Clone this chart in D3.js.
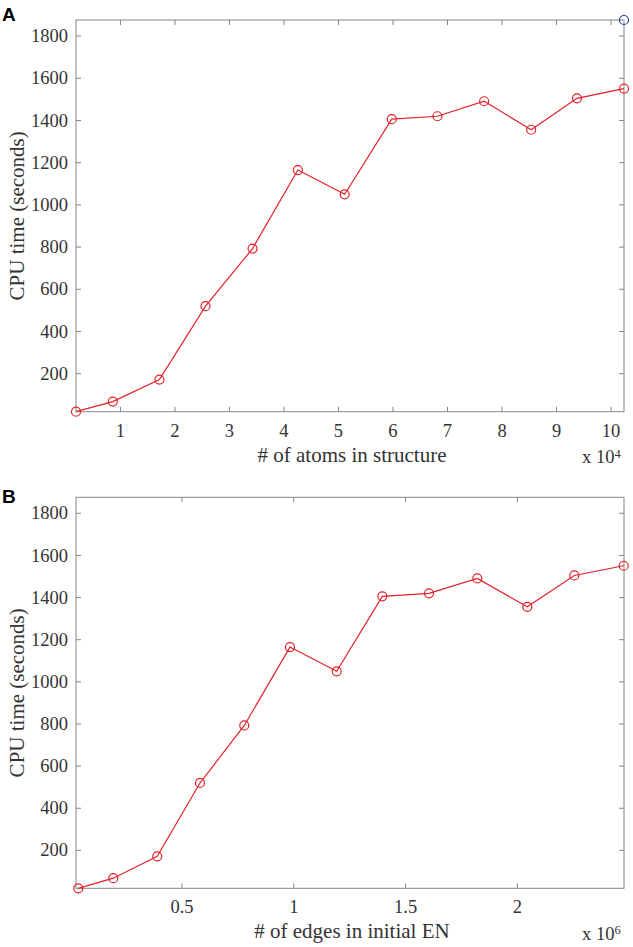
<!DOCTYPE html>
<html>
<head>
<meta charset="utf-8">
<script src="https://cdn.jsdelivr.net/npm/d3@7"></script>
<style>
  body { margin: 0; background: #fff; }
  svg text { font-family: "Liberation Serif", "DejaVu Serif", serif; fill: #333; }
</style>
</head>
<body>
<div id="chart"></div>
<script>
// values
const atoms   = [1850, 8590, 17160, 25610, 34240, 42560, 51140, 59770, 68150, 76720, 85350, 93750, 102380];
const edges   = [36200, 192800, 389500, 580500, 778600, 983000, 1191900, 1395800, 1604700, 1820700, 2044300, 2254500, 2475400];
const cpuTime = [20, 68, 172, 520, 793, 1165, 1050, 1406, 1420, 1491, 1356, 1505, 1551];

const yTicks  = [200, 400, 600, 800, 1000, 1200, 1400, 1600, 1800];
const xTicksA = [10000, 20000, 30000, 40000, 50000, 60000, 70000, 80000, 90000, 100000];
const xTicksB = [500000, 1000000, 1500000, 2000000];
const yDomain = [20, 1876];

const W = 633, H = 947;
const svg = d3.select("#chart").append("svg").attr("width", W).attr("height", H);

const red = "#e3222b", axisGray = "#858585";

function drawPanel(o) {
	const x = d3.scaleLinear().domain(o.xDomain).range([76, 624]);
	const y = d3.scaleLinear().domain(yDomain).range([o.bottom, o.top]);
	const g = svg.append("g");

	//Box with inward ticks on all four sides
	const tk = 5;
	g.selectAll(".xtb").data(o.xTicks).enter().append("line")
		.attr("x1", d => x(d)).attr("x2", d => x(d))
		.attr("y1", o.bottom).attr("y2", o.bottom - tk)
		.attr("stroke", axisGray);
	g.selectAll(".xtt").data(o.xTicks).enter().append("line")
		.attr("x1", d => x(d)).attr("x2", d => x(d))
		.attr("y1", o.top).attr("y2", o.top + tk)
		.attr("stroke", axisGray);
	g.selectAll(".ytl").data(yTicks).enter().append("line")
		.attr("x1", 76).attr("x2", 76 + tk)
		.attr("y1", d => y(d)).attr("y2", d => y(d))
		.attr("stroke", axisGray);
	g.selectAll(".ytr").data(yTicks).enter().append("line")
		.attr("x1", 624).attr("x2", 624 - tk)
		.attr("y1", d => y(d)).attr("y2", d => y(d))
		.attr("stroke", axisGray);
	g.append("rect")
		.attr("x", 76).attr("y", o.top)
		.attr("width", 548).attr("height", o.bottom - o.top)
		.attr("fill", "none").attr("stroke", axisGray);

	//Tick labels
	g.selectAll(".xl").data(o.xTicks).enter().append("text")
		.attr("x", d => x(d)).attr("y", o.bottom + 25)
		.attr("text-anchor", "middle").style("font-size", "18.5px")
		.text(d => d / o.scale);
	g.selectAll(".yl").data(yTicks).enter().append("text")
		.attr("x", 68).attr("y", d => y(d)).attr("dy", "0.33em")
		.attr("text-anchor", "end").style("font-size", "18.5px")
		.text(d => d);

	//Axis titles
	g.append("text")
		.attr("x", 352).attr("y", o.bottom + 50)
		.attr("text-anchor", "middle").style("font-size", "21px")
		.text(o.xLabel);
	g.append("text")
		.attr("transform", "translate(24," + ((o.top + o.bottom) / 2) + ") rotate(-90)")
		.attr("text-anchor", "middle").style("font-size", "21px")
		.text("CPU time (seconds)");
	const ex = g.append("text")
		.attr("x", 582).attr("y", o.bottom + 51.5)
		.style("font-size", "18.5px");
	ex.append("tspan").text("x 10");
	ex.append("tspan").attr("dy", "-0.45em").style("font-size", "12.5px").text(o.exponent);

	//Panel letter
	g.append("text")
		.attr("x", 2).attr("y", o.top + o.letterDy)
		.style("font-family", "'Liberation Sans', Arial, sans-serif")
		.style("font-weight", "bold").style("font-size", "19px").style("fill", "#000")
		.text(o.letter);

	//Data line and markers
	const pts = o.xs.map((d, i) => [d, cpuTime[i]]);
	g.append("path")
		.attr("d", d3.line().x(d => x(d[0])).y(d => y(d[1]))(pts))
		.attr("fill", "none").attr("stroke", red).attr("stroke-width", 1.2);
	g.selectAll(".pt").data(pts).enter().append("circle")
		.attr("cx", d => x(d[0])).attr("cy", d => y(d[1])).attr("r", 4.5)
		.attr("fill", "none").attr("stroke", red).attr("stroke-width", 1.2);

	if (o.extra) {
		g.append("circle")
			.attr("cx", x(o.xDomain[1])).attr("cy", y(yDomain[1])).attr("r", 4.5)
			.attr("fill", "none").attr("stroke", "#2a3f9c").attr("stroke-width", 1.2);
	}
}

drawPanel({
	letter: "A", letterDy: 1, top: 20, bottom: 411.7,
	xDomain: [1850, 102380], xTicks: xTicksA, scale: 1e4, exponent: "4",
	xs: atoms, xLabel: "# of atoms in structure", extra: true
});
drawPanel({
	letter: "B", letterDy: 5.5, top: 497.3, bottom: 888.3,
	xDomain: [26000, 2476700], xTicks: xTicksB, scale: 1e6, exponent: "6",
	xs: edges, xLabel: "# of edges in initial EN", extra: false
});
</script>
</body>
</html>
